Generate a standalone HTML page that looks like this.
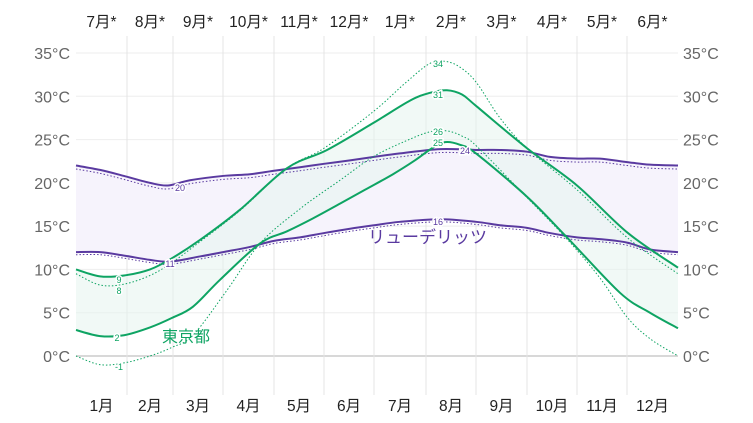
<!DOCTYPE html>
<html><head><meta charset="utf-8"><style>
body{margin:0;background:#fff;width:753px;height:418px;overflow:hidden}
text{font-family:"Liberation Sans","Noto Sans CJK JP",sans-serif}
</style></head><body>
<svg id="s" width="753" height="418" xmlns="http://www.w3.org/2000/svg"></svg>
<script>
const s=document.getElementById('s');
const Y=t=>356-8.657*t;
let h='';
for(let t=0;t<=35;t+=5){h+=`<line x1="76" x2="678" y1="${Y(t)}" y2="${Y(t)}" stroke="${t==0?'#ccc':'#eee'}" stroke-width="${t==0?1.5:1}"/>`;
h+=`<text x="70" y="${Y(t)+6}" text-anchor="end" font-size="16" fill="#666">${t}°C</text>`;
h+=`<text x="683" y="${Y(t)+6}" font-size="16" fill="#666">${t}°C</text>`;}
const gx=[127,173,223,274,324,374,426,476,527,577,627];
gx.forEach(x=>h+=`<line x1="${x}" x2="${x}" y1="36" y2="395" stroke="#e4e4e4"/>`);
const bl=['1月','2月','3月','4月','5月','6月','7月','8月','9月','10月','11月','12月'];
const tl=['7月*','8月*','9月*','10月*','11月*','12月*','1月*','2月*','3月*','4月*','5月*','6月*'];
const ed=[76,...gx,678];
for(let i=0;i<12;i++){const c=(ed[i]+ed[i+1])/2;
h+=`<text x="${c}" y="411" text-anchor="middle" font-size="15.5" fill="#222">${bl[i]}</text>`;
h+=`<text x="${c}" y="27" text-anchor="middle" font-size="15.5" fill="#222">${tl[i]}</text>`;}
function path(p){let d=`M${p[0][0]},${Y(p[0][1])}`;
for(let i=0;i<p.length-1;i++){const p0=p[Math.max(0,i-1)],p1=p[i],p2=p[i+1],p3=p[Math.min(p.length-1,i+2)];
const c1x=p1[0]+(p2[0]-p0[0])/6,c1y=Y(p1[1])+(Y(p2[1])-Y(p0[1]))/6,c2x=p2[0]-(p3[0]-p1[0])/6,c2y=Y(p2[1])-(Y(p3[1])-Y(p1[1]))/6;
d+=`C${c1x},${c1y} ${c2x},${c2y} ${p2[0]},${Y(p2[1])}`;}return d;}
function area(a,b){const r=path(b.slice().reverse());return path(a)+'L'+r.slice(1)+'Z';}
const th=[[76,10],[100,9.2],[124,9.3],[150,10],[172,11.3],[200,13.4],[240,16.9],[287,21.7],[327,23.8],[373,26.9],[410,29.5],[430,30.4],[447,30.7],[462,30.2],[477,28.8],[527,24],[577,19.7],[628,14.2],[678,10.2]];
const tlo=[[76,3],[100,2.3],[124,2.4],[150,3.3],[172,4.4],[193,5.7],[220,8.8],[260,13],[287,14.4],[313,15.9],[340,17.6],[365,19.2],[393,21],[415,22.6],[432,24],[445,24.7],[460,24.4],[476,23.4],[527,18.4],[567,13.7],[620,7.3],[650,5],[678,3.2]];
const tdh=[[76,9.5],[100,8.2],[124,8.3],[150,9.3],[172,10.8],[200,13.2],[240,16.8],[287,21.7],[324,24],[373,28.2],[405,31.5],[430,33.8],[447,34],[462,33.2],[477,31.5],[500,27.5],[527,24],[577,19.2],[628,13.6],[678,9.5]];
const tdl=[[76,0],[100,-1],[124,-0.8],[150,0],[172,1],[193,2.4],[227,7.6],[260,13],[300,17],[340,20.3],[373,23],[405,24.8],[430,25.9],[447,26],[462,25.4],[477,24.2],[527,18.3],[567,13.5],[600,9],[627,4.5],[650,2],[678,0]];
const ph=[[76,22],[100,21.5],[124,20.8],[150,20],[168,19.7],[190,20.3],[223,20.8],[250,21],[274,21.4],[300,21.8],[324,22.2],[350,22.6],[374,23],[400,23.4],[440,23.9],[476,23.8],[500,23.8],[527,23.6],[550,23],[577,22.8],[600,22.8],[627,22.4],[650,22.1],[678,22]];
const pl=[[76,12],[100,12],[124,11.6],[150,11.1],[170,10.9],[200,11.5],[223,12],[250,12.6],[274,13.3],[300,13.7],[324,14.2],[350,14.7],[374,15.1],[400,15.5],[440,15.8],[476,15.5],[500,15.1],[527,14.8],[550,14.2],[577,13.7],[600,13.5],[627,13.1],[650,12.3],[678,12]];
const sh=(a,d)=>a.map(p=>[p[0],p[1]+d]);
const G='#0ea463',P='#5a3aa0';
h+=`<path d="${area(ph,pl)}" fill="#f6f3fc"/>`;
h+=`<path d="${area(th,tlo)}" fill="#e6f4ee" fill-opacity="0.55"/>`;
h+=`<path d="${path(sh(ph,-0.4))}" fill="none" stroke="${P}" stroke-width="1" stroke-dasharray="1.5 2"/>`;
h+=`<path d="${path(sh(pl,-0.3))}" fill="none" stroke="${P}" stroke-width="1" stroke-dasharray="1.5 2"/>`;
h+=`<path d="${path(ph)}" fill="none" stroke="${P}" stroke-width="2"/>`;
h+=`<path d="${path(pl)}" fill="none" stroke="${P}" stroke-width="2"/>`;
h+=`<path d="${path(tdh)}" fill="none" stroke="${G}" stroke-width="1" stroke-dasharray="1.5 2"/>`;
h+=`<path d="${path(tdl)}" fill="none" stroke="${G}" stroke-width="1" stroke-dasharray="1.5 2"/>`;
h+=`<path d="${path(th)}" fill="none" stroke="${G}" stroke-width="2"/>`;
h+=`<path d="${path(tlo)}" fill="none" stroke="${G}" stroke-width="2"/>`;
const lab=(x,y,t,c)=>h+=`<text x="${x}" y="${y}" text-anchor="middle" font-size="9" fill="${c}" stroke="#fff" stroke-width="3" paint-order="stroke">${t}</text>`;
lab(119,283,'9',G);lab(119,294,'8',G);lab(117,341,'2',G);lab(119,370,'-1',G);
lab(438,67,'34',G);lab(438,98,'31',G);lab(438,135,'26',G);lab(438,146,'25',G);
lab(465,154,'24',P);lab(438,225,'16',P);lab(180,191,'20',P);lab(170,267,'11',P);
h+=`<text x="368" y="243" font-size="17" fill="${P}">リューデリッツ</text>`;
h+=`<text x="162" y="342" font-size="16" fill="${G}">東京都</text>`;
s.innerHTML=h;
</script>
</body></html>
